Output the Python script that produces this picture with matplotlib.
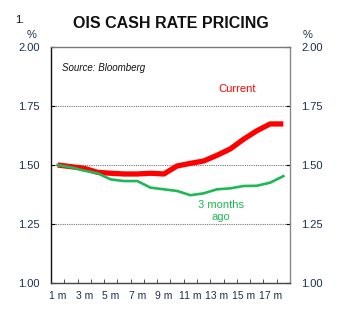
import numpy as np
import matplotlib.pyplot as plt

plt.rcParams["font.family"] = ["Liberation Sans", "DejaVu Sans"]

# OIS-implied cash rate by months ahead (per cent)
months = np.arange(1, 19)
current = [1.500, 1.493, 1.486, 1.469, 1.465, 1.462, 1.462, 1.465, 1.462,
           1.496, 1.507, 1.517, 1.541, 1.568, 1.609, 1.645, 1.674, 1.674]
three_months_ago = [1.500, 1.490, 1.476, 1.465, 1.439, 1.432, 1.432, 1.404, 1.397,
                    1.390, 1.372, 1.380, 1.397, 1.401, 1.411, 1.412, 1.425, 1.453]
tick_labels = [f"{m} m" for m in range(1, 18, 2)]
y_ticks = [1.00, 1.25, 1.50, 1.75, 2.00]

label_col = "#1c2f4f"
red = "#ff0000"
green = "#1db954"

fig = plt.figure(figsize=(3.53, 3.23), dpi=100)
ax = fig.add_axes([0.1445, 0.1238, 0.677, 0.7307])

ax.plot(months, current, color=red, lw=3.8, solid_capstyle="butt", zorder=3)
ax.plot(months, three_months_ago, color=green, lw=1.9, zorder=4)

ax.set_xlim(0.5, 18.5)
ax.set_ylim(1.0, 2.0)

for y in y_ticks[1:4]:
    ax.axhline(y, color="#777777", lw=0.8, ls=(0, (1, 1)), zorder=1)

# x axis: labels at odd months, ticks on category boundaries
ax.set_xticks(range(1, 18, 2))
ax.set_xticklabels(tick_labels, fontsize=7.5, color=label_col)
ax.set_xticks(np.arange(1.5, 18.5, 1), minor=True)
ax.tick_params(axis="x", which="major", length=0, pad=6)
ax.tick_params(axis="x", which="minor", direction="in", length=3, color="#333333")

ax.set_yticks(y_ticks)
ax.set_yticklabels([f"{v:.2f}" for v in y_ticks])
ax.tick_params(axis="y", direction="in", length=3, labelsize=8,
               labelcolor=label_col, right=True, labelright=True, pad=8)

ax.spines["top"].set_linestyle((0, (1, 1)))
ax.spines["top"].set_color("#777777")
ax.spines["right"].set_color("#888888")
ax.spines["left"].set_color("#111111")
ax.spines["bottom"].set_color("#444444")
for s in ax.spines.values():
    s.set_linewidth(1.0)

ax.text(0.046, 0.913, "Source: Bloomberg", transform=ax.transAxes,
        fontsize=7, style="italic", color="#111111", va="center")
ax.text(14.5, 1.822, "Current", color=red, fontsize=8, ha="center", va="center")
ax.text(13.3, 1.305, "3 months\nago", color=green, fontsize=8, ha="center",
        va="center", linespacing=1.2)

fig.text(0.089, 0.882, "%", fontsize=8, color=label_col, ha="center")
fig.text(0.870, 0.882, "%", fontsize=8, color=label_col, ha="center")
fig.text(0.043, 0.929, "1.", fontsize=8, color="#111111")
fig.text(0.483, 0.913, "OIS CASH RATE PRICING", fontsize=11.5, weight="bold",
         ha="center", color="#111111")

fig.savefig("out.png", dpi=100)
